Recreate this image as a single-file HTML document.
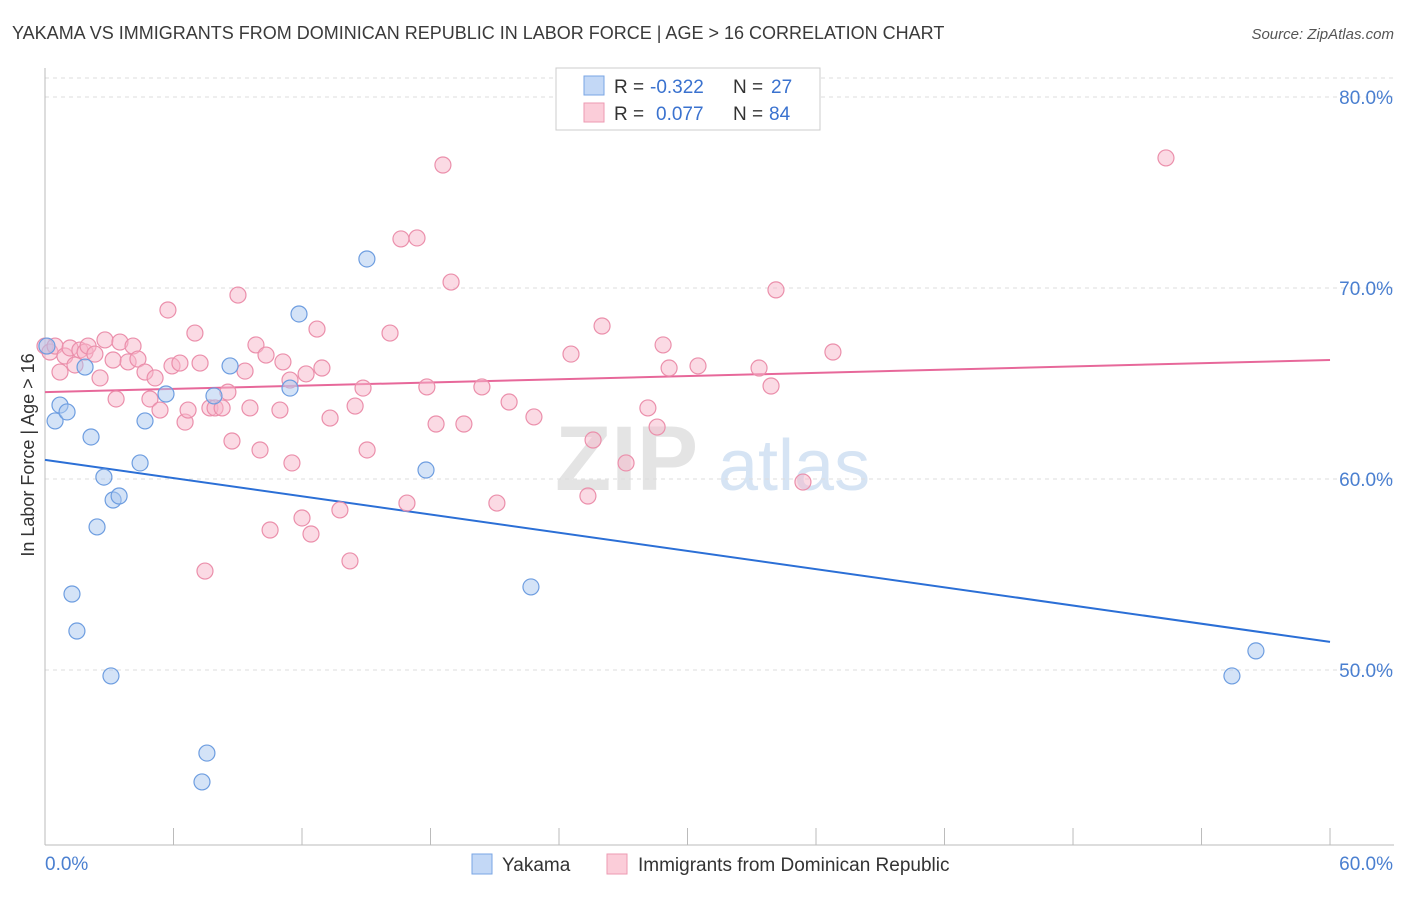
<!DOCTYPE html>
<html><head><meta charset="utf-8">
<style>
body{margin:0;background:#fff;font-family:"Liberation Sans",sans-serif;}
svg text{font-family:"Liberation Sans",sans-serif;}
</style></head>
<body>
<svg width="1406" height="892" viewBox="0 0 1406 892" xmlns="http://www.w3.org/2000/svg">
<text x="12" y="39" font-size="18" fill="#3a3a3a">YAKAMA VS IMMIGRANTS FROM DOMINICAN REPUBLIC IN LABOR FORCE | AGE &gt; 16 CORRELATION CHART</text>
<text x="1394" y="39" font-size="15" fill="#555" text-anchor="end" font-style="italic">Source: ZipAtlas.com</text>
<g>
<text x="555" y="490" font-size="92" fill="#e4e4e4" font-family="Liberation Serif" font-weight="bold">ZIP</text>
<text x="718" y="490" font-size="72" fill="#d6e4f4">atlas</text>
</g>
<g id="grid"></g>
<g id="axes"></g>
<g id="trends"></g>
<g id="points"></g>
<text transform="translate(34,455) rotate(-90)" font-size="18" fill="#333" text-anchor="middle">In Labor Force | Age &gt; 16</text>
<g>
<rect x="556" y="68" width="264" height="62" fill="#fff" stroke="#ccc"/>
<rect x="584" y="76" width="20" height="19" fill="#c3d8f6" stroke="#7aa6e4"/>
<rect x="584" y="103" width="20" height="19" fill="#fbcdd9" stroke="#ec9ab2"/>
<text x="614" y="93" font-size="19" fill="#333">R =</text>
<text x="650" y="93" font-size="19" fill="#3a72cf">-0.322</text>
<text x="733" y="93" font-size="19" fill="#333">N =</text>
<text x="771" y="93" font-size="19" fill="#3a72cf">27</text>
<text x="614" y="120" font-size="19" fill="#333">R =</text>
<text x="656" y="120" font-size="19" fill="#3a72cf">0.077</text>
<text x="733" y="120" font-size="19" fill="#333">N =</text>
<text x="769" y="120" font-size="19" fill="#3a72cf">84</text>
</g>
<g>
<rect x="472" y="854" width="20" height="20" fill="#c3d8f6" stroke="#7aa6e4"/>
<text x="502" y="871" font-size="19" fill="#333">Yakama</text>
<rect x="607" y="854" width="20" height="20" fill="#fbcdd9" stroke="#ec9ab2"/>
<text x="638" y="871" font-size="19" fill="#333">Immigrants from Dominican Republic</text>
</g>
</svg>
<script>
const yTicks=[50,60,70,80];
const yTickLabels=["50.0%","60.0%","70.0%","80.0%"];
const xTickVals=[0,6,12,18,24,30,36,42,48,54,60];
const yakamaX=[0.09,0.47,0.70,1.03,1.87,2.15,2.75,3.18,3.46,2.43,1.26,1.49,3.08,4.44,4.67,5.65,7.56,7.33,7.89,8.64,11.44,11.86,15.03,17.79,22.69,56.54,55.42];
const yakamaY=[66.96,63.04,63.87,63.51,65.86,62.20,60.10,58.90,59.11,57.49,53.98,52.04,49.69,60.84,63.04,64.45,45.65,44.14,64.35,65.92,64.76,68.64,71.52,60.47,54.35,51.0,49.69];
const domX=[0,0.23,0.47,0.70,0.93,1.17,1.40,1.63,1.87,2.01,2.33,2.57,2.80,3.18,3.32,3.50,3.88,4.11,4.34,4.67,4.90,5.14,5.37,5.74,5.93,6.30,6.54,6.68,7.00,7.24,7.47,7.70,7.94,8.27,8.54,8.73,9.01,9.34,9.57,9.85,10.04,10.32,10.51,10.97,11.11,11.44,11.53,12.00,12.19,12.42,12.70,12.93,13.31,13.77,14.24,14.48,14.85,15.04,16.11,16.62,16.90,17.37,17.83,18.26,18.58,18.96,19.56,20.40,21.10,21.67,22.83,24.56,25.35,25.59,26.01,27.13,28.15,28.58,28.86,29.14,30.49,33.34,33.90,34.13,35.39,36.79,52.34];
const domY=[66.96,66.65,66.96,65.60,66.44,66.86,65.97,66.75,66.65,66.96,66.54,65.29,67.28,66.23,64.19,67.17,66.13,66.96,66.28,65.60,64.19,65.29,63.61,68.85,65.92,66.07,62.98,63.61,67.64,66.07,55.18,63.72,63.72,63.72,64.55,61.99,69.63,65.65,63.72,67.02,61.52,66.49,57.33,63.61,66.13,65.18,60.84,57.96,65.50,57.12,67.85,65.81,63.19,58.38,55.71,63.82,64.76,61.52,67.64,72.57,58.74,72.62,64.82,62.88,76.44,70.31,62.88,64.82,58.74,64.03,63.25,66.54,59.11,62.04,68.01,60.84,63.72,62.72,67.02,65.81,65.92,65.81,64.87,69.90,59.84,66.65,76.81];
const yakamaTrend=[61.0,51.47];
const domTrend=[64.55,66.23];
const NS="http://www.w3.org/2000/svg";
const X=v=>45+v*21.417, Y=v=>97+(80-v)*19.1;
function mk(t,a,p){const e=document.createElementNS(NS,t);for(const k in a)e.setAttribute(k,a[k]);p.appendChild(e);return e;}
const grid=document.getElementById('grid'),axes=document.getElementById('axes'),tr=document.getElementById('trends'),pts=document.getElementById('points');
yTicks.forEach((t,i)=>{
 const l=mk('line',{x1:45,x2:1394,y1:Y(t),y2:Y(t),stroke:'#ddd','stroke-dasharray':'4,4'},grid);
 
 
 const tx=mk('text',{x:1393,y:Y(t)+7,'font-size':19,fill:'#4a7fd0','text-anchor':'end'},axes);
 tx.textContent=yTickLabels[i];
 
 
});
const tg=mk('line',{x1:45,x2:1394,y1:78,y2:78,stroke:'#ddd','stroke-dasharray':'4,4'},grid);


const ya=mk('line',{x1:45,x2:45,y1:68,y2:845,stroke:'#bbb'},axes);


const xa=mk('line',{x1:45,x2:1394,y1:845,y2:845,stroke:'#bbb'},axes);


xTickVals.forEach(v=>{
 const t=mk('line',{x1:X(v),x2:X(v),y1:828,y2:845,stroke:'#bbb'},axes);
 
 
});
[[0,'0.0%','start'],[60,'60.0%','end']].forEach(d=>{
 const t=mk('text',{x:d[0]==0?45:1393,y:870,'font-size':19,fill:'#4a7fd0','text-anchor':d[2]},axes);
 t.textContent=d[1];
 
 
});
function dots(xs,ys,fill,stroke,name){xs.forEach((x,i)=>{
 const c=mk('circle',{cx:X(x),cy:Y(ys[i]),r:8,fill:fill,'fill-opacity':0.5,stroke:stroke,'stroke-width':1.2},pts);
 
 
});}
dots(domX,domY,'#f7b6c9','#eb8fab','dominican-point');
dots(yakamaX,yakamaY,'#a9c7f0','#6d9de0','yakama-point');
const l1=mk('line',{x1:X(0),y1:Y(yakamaTrend[0]),x2:X(60),y2:Y(yakamaTrend[1]),stroke:'#2b6fd6','stroke-width':2},tr);


const l2=mk('line',{x1:X(0),y1:Y(domTrend[0]),x2:X(60),y2:Y(domTrend[1]),stroke:'#e7689a','stroke-width':2},tr);


</script>
</body></html>
